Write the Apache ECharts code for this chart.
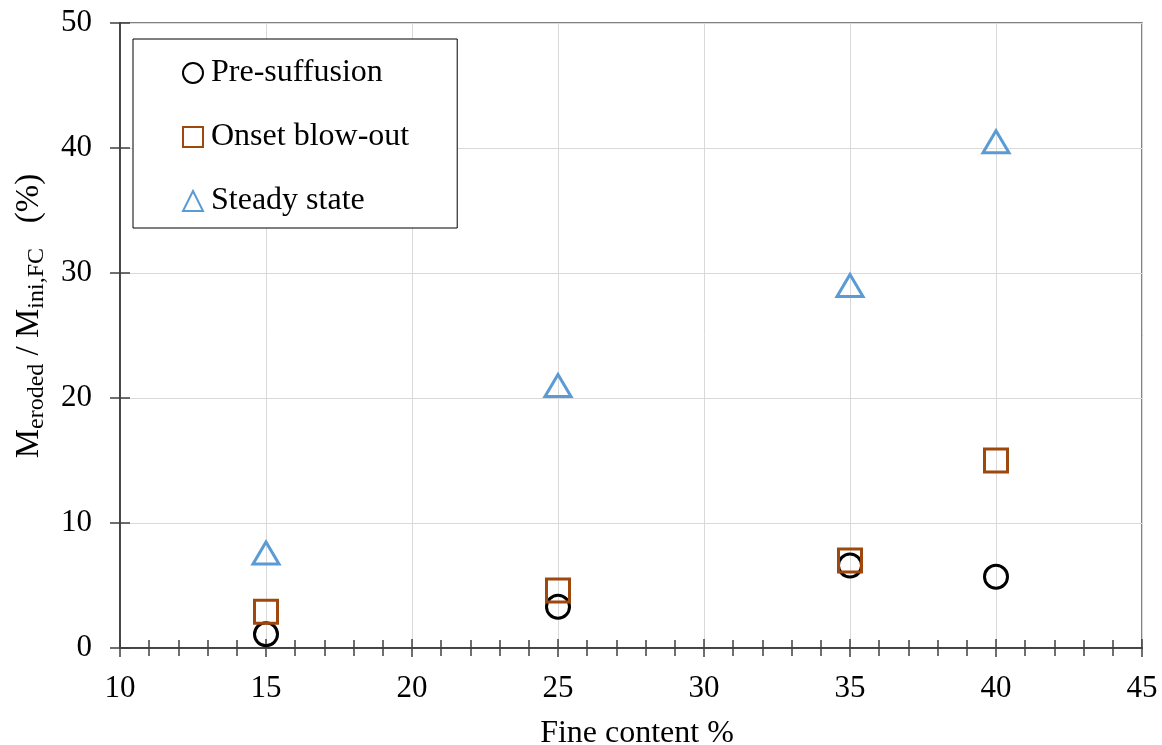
<!DOCTYPE html>
<html>
<head>
<meta charset="utf-8">
<script src="https://cdn.jsdelivr.net/npm/echarts@6/dist/echarts.min.js"></script>
<style>html,body{margin:0;padding:0;background:#fff}#c{width:1162px;height:745px}</style>
</head>
<body>
<div id="c"></div>
<script>
const fineContent = [15, 25, 35, 40];
const preSuffusion = [1.1, 3.3, 6.6, 5.7];
const onsetBlowOut = [2.9, 4.6, 7.0, 15.0];
const steadyState = [7.6, 21.0, 29.0, 40.5];
const seriesNames = ['Pre-suffusion', 'Onset blow-out', 'Steady state'];
const xTicks = [10, 15, 20, 25, 30, 35, 40, 45];
const yTicks = [0, 10, 20, 30, 40, 50];

const font = 'Liberation Serif, Times New Roman, serif';
const pair = (xs, ys) => xs.map((x, i) => [x, ys[i]]);
const axisColor = '#404040';

const chart = echarts.init(document.getElementById('c'), null, {renderer: 'canvas'});
const xCommon = {
  type: 'value', min: xTicks[0], max: xTicks[xTicks.length - 1], interval: 5,
  axisLine: {onZero: false, lineStyle: {color: axisColor, width: 1.5}},
  minorTick: {show: true, splitNumber: 5, length: 8, lineStyle: {color: axisColor, width: 1.5}},
  axisTick: {show: true, length: 9, lineStyle: {color: axisColor, width: 1.5}}
};
const yCommon = {
  type: 'value', min: yTicks[0], max: yTicks[yTicks.length - 1], interval: 10,
  axisLine: {show: true, onZero: false, lineStyle: {color: axisColor, width: 1.5}},
  axisTick: {show: true, length: 10, lineStyle: {color: axisColor, width: 1.5}}
};
chart.setOption({
  animation: false,
  backgroundColor: '#fff',
  grid: {left: 120, right: 20, top: 23, bottom: 97, show: true, borderColor: '#595959', borderWidth: 1.5,
         containLabel: false, outerBoundsMode: 'none'},
  legend: {
    orient: 'vertical', left: 133, top: 39,
    padding: [18, 48, 11, 49],
    itemGap: 32, itemWidth: 20, itemHeight: 20,
    borderColor: '#000', borderWidth: 1, backgroundColor: '#fff',
    textStyle: {fontFamily: font, fontSize: 32, color: '#000', padding: [0, 0, 0, 3]},
    data: seriesNames
  },
  xAxis: [
    Object.assign({}, xCommon, {
      name: 'Fine content %', nameLocation: 'middle', nameGap: 70,
      nameTextStyle: {fontFamily: font, fontSize: 32, color: '#000', padding: [0, 0, 0, 12]},
      axisLabel: {fontFamily: font, fontSize: 31, color: '#000', margin: 25},
      axisTick: Object.assign({}, xCommon.axisTick, {inside: false}),
      splitLine: {show: true, lineStyle: {color: '#d9d9d9', width: 1}}
    }),
    Object.assign({}, xCommon, {
      position: 'bottom',
      axisLabel: {show: false},
      axisTick: Object.assign({}, xCommon.axisTick, {inside: true}),
      splitLine: {show: false}
    })
  ],
  yAxis: [
    Object.assign({}, yCommon, {
      name: '{b|M}{s|eroded}{b| / M}{s|ini,FC}{b|   (%)}',
      nameLocation: 'middle', nameGap: 71,
      nameTextStyle: {
        padding: [0, 0, 0, 39],
        rich: {
          b: {fontFamily: font, fontSize: 33, color: '#000', lineHeight: 40, verticalAlign: 'middle'},
          s: {fontFamily: font, fontSize: 24, color: '#000', lineHeight: 24, verticalAlign: 'bottom'}
        }
      },
      axisTick: Object.assign({}, yCommon.axisTick, {inside: false}),
      axisLabel: {fontFamily: font, fontSize: 31, color: '#000', margin: 28},
      splitLine: {show: true, lineStyle: {color: '#d9d9d9', width: 1}}
    }),
    Object.assign({}, yCommon, {
      position: 'left',
      axisLabel: {show: false},
      axisTick: Object.assign({}, yCommon.axisTick, {inside: true}),
      splitLine: {show: false}
    })
  ],
  series: [
    {
      name: seriesNames[0], type: 'scatter', symbol: 'circle', symbolSize: 23,
      itemStyle: {color: 'rgba(255,255,255,0)', borderColor: '#000', borderWidth: 3, opacity: 1},
      data: pair(fineContent, preSuffusion)
    },
    {
      name: seriesNames[1], type: 'scatter', symbol: 'rect', symbolSize: 23,
      itemStyle: {color: 'rgba(255,255,255,0)', borderColor: '#9E480E', borderWidth: 3, opacity: 1},
      data: pair(fineContent, onsetBlowOut)
    },
    {
      name: seriesNames[2], type: 'scatter', symbol: 'triangle', symbolSize: [26, 22],
      itemStyle: {color: 'rgba(255,255,255,0)', borderColor: '#5B9BD5', borderWidth: 3, opacity: 1},
      data: pair(fineContent, steadyState)
    }
  ]
});
</script>
</body>
</html>
